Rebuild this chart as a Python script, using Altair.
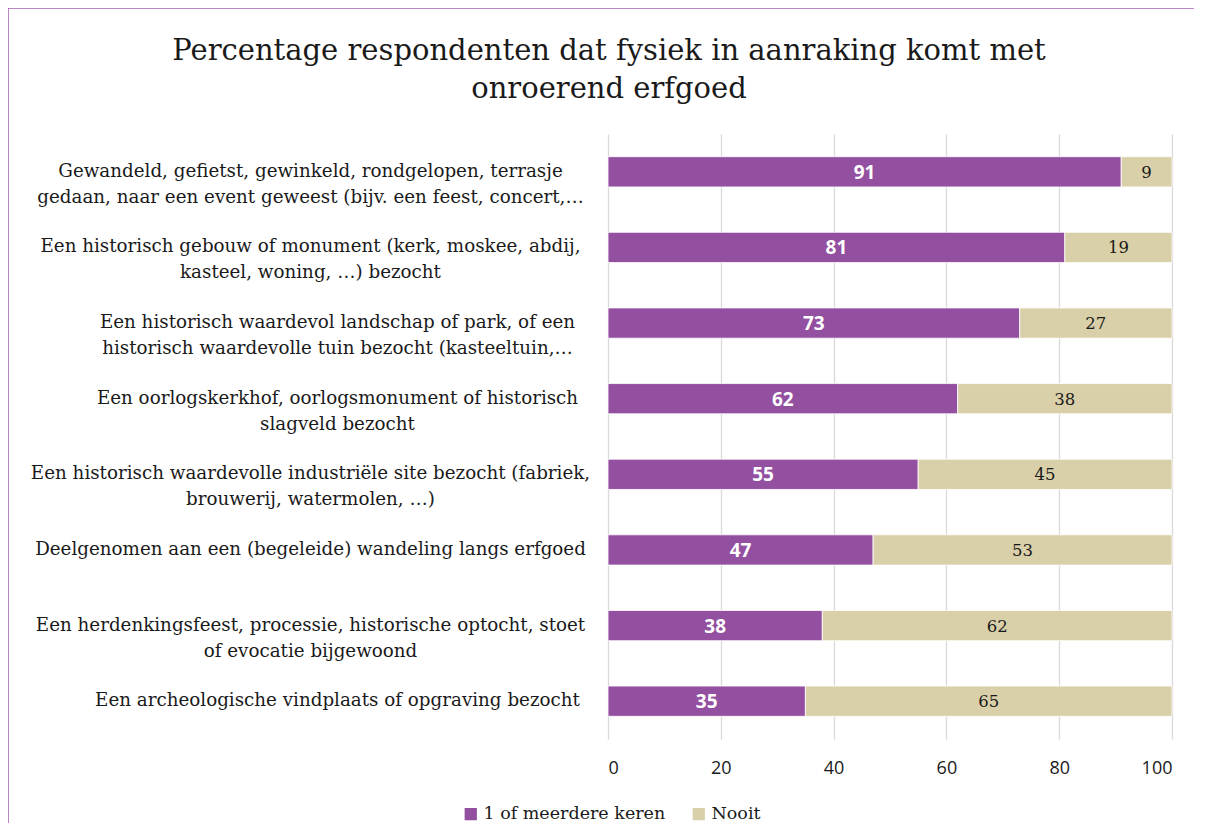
import json
import altair as alt
import pandas as pd

categories = [
    "Gewandeld, gefietst, gewinkeld, rondgelopen, terrasje\ngedaan, naar een event geweest (bijv. een feest, concert,…",
    "Een historisch gebouw of monument (kerk, moskee, abdij,\nkasteel, woning, …) bezocht",
    "Een historisch waardevol landschap of park, of een\nhistorisch waardevolle tuin bezocht (kasteeltuin,…",
    "Een oorlogskerkhof, oorlogsmonument of historisch\nslagveld bezocht",
    "Een historisch waardevolle industriële site bezocht (fabriek,\nbrouwerij, watermolen, …)",
    "Deelgenomen aan een (begeleide) wandeling langs erfgoed",
    "Een herdenkingsfeest, processie, historische optocht, stoet\nof evocatie bijgewoond",
    "Een archeologische vindplaats of opgraving bezocht",
]
series_names = ["1 of meerdere keren", "Nooit"]
meerdere = [91, 81, 73, 62, 55, 47, 38, 35]
nooit = [9, 19, 27, 38, 45, 53, 62, 65]
x_ticks = [0, 20, 40, 60, 80, 100]
title_lines = ["Percentage respondenten dat fysiek in aanraking komt met", "onroerend erfgoed"]

rows = []
for i, c in enumerate(categories):
    rows.append({"cat": c, "serie": series_names[0], "order": 0, "value": meerdere[i]})
    rows.append({"cat": c, "serie": series_names[1], "order": 1, "value": nooit[i]})
df = pd.DataFrame(rows)

PURPLE = "#934fa0"
BEIGE = "#d9cfa8"
SERIF = "DejaVu Serif"
SANS = "Open Sans"
INK = "#1a1a1a"

# narrower label blocks sit flush against the plot (as in the original layout)
narrow_blocks = [categories[2], categories[3], categories[7]]
narrow_test = "indexof(" + json.dumps(narrow_blocks, ensure_ascii=False) + ", datum.value) >= 0"

y_enc = alt.Y(
    "cat:N", sort=categories, title=None,
    scale=alt.Scale(paddingInner=0.6, paddingOuter=0.3),
    axis=alt.Axis(
        labelExpr="split(datum.label, '\\n')",
        labelAlign="center",
        labelPadding={"condition": {"test": narrow_test, "value": 271}, "value": 298},
        ticks=False, tickSize=0,
        domain=False, labelFont=SERIF, labelFontSize=18.3, labelColor=INK,
        labelLimit=700, labelLineHeight=26, grid=False,
    ),
)

base = alt.Chart(df)

bars = base.mark_bar(stroke="white", strokeWidth=0.8).encode(
    y=y_enc,
    x=alt.X(
        "value:Q", stack="zero", title=None,
        scale=alt.Scale(domain=[0, 100], nice=False),
        axis=alt.Axis(values=x_ticks, grid=True, gridColor="#d9d9d9", gridWidth=1.3,
                      domain=False, ticks=False, labelFont=SANS, labelFontSize=18,
                      labelColor=INK, labelPadding=20),
    ),
    color=alt.Color("serie:N", sort=series_names,
                    scale=alt.Scale(domain=series_names, range=[PURPLE, BEIGE]),
                    legend=alt.Legend(title=None, orient="none", direction="horizontal",
                                      legendX=-146, legendY=671, symbolType="square",
                                      symbolSize=150, symbolStrokeWidth=0,
                                      labelFont=SERIF, labelFontSize=17.5, labelColor=INK,
                                      labelLimit=400, columnPadding=24, labelOffset=4)),
    order=alt.Order("order:Q"),
)

stacked = base.transform_stack(
    stack="value", groupby=["cat"], as_=["v0", "v1"], sort=[alt.SortField("order")]
).transform_calculate(mid="(datum.v0 + datum.v1) / 2")

text_purple = stacked.transform_filter(alt.datum.order == 0).mark_text(
    color="white", font=SANS, fontSize=19, fontWeight="bold", baseline="middle", dy=1
).encode(y=alt.Y("cat:N", sort=categories), x=alt.X("mid:Q"), text="value:Q")

text_beige = stacked.transform_filter(alt.datum.order == 1).mark_text(
    color=INK, font=SERIF, fontSize=16.5, baseline="middle", dy=1
).encode(y=alt.Y("cat:N", sort=categories), x=alt.X("mid:Q"), text="value:Q")

frame = alt.Chart(pd.DataFrame({"k": [0]})).mark_rect(
    fill=None, stroke="#a45fb0", strokeWidth=1.5
).encode(x=alt.value(-600), x2=alt.value(620), y=alt.value(-126), y2=alt.value(720))

chart = alt.layer(bars, text_purple, text_beige, frame).properties(
    width=564, height=605,
    padding={"left": 600, "top": 126, "right": 22, "bottom": 84},
    autosize=alt.AutoSizeParams(type="none"),
    title=alt.TitleParams(
        text=title_lines, anchor="middle", frame="group", dx=-281, offset=-97,
        font=SERIF, fontSize=29, fontWeight="normal", color=INK, lineHeight=38,
    ),
).configure_view(stroke=None)

chart.save("out.html", embed_options={"renderer": "svg", "actions": False})
